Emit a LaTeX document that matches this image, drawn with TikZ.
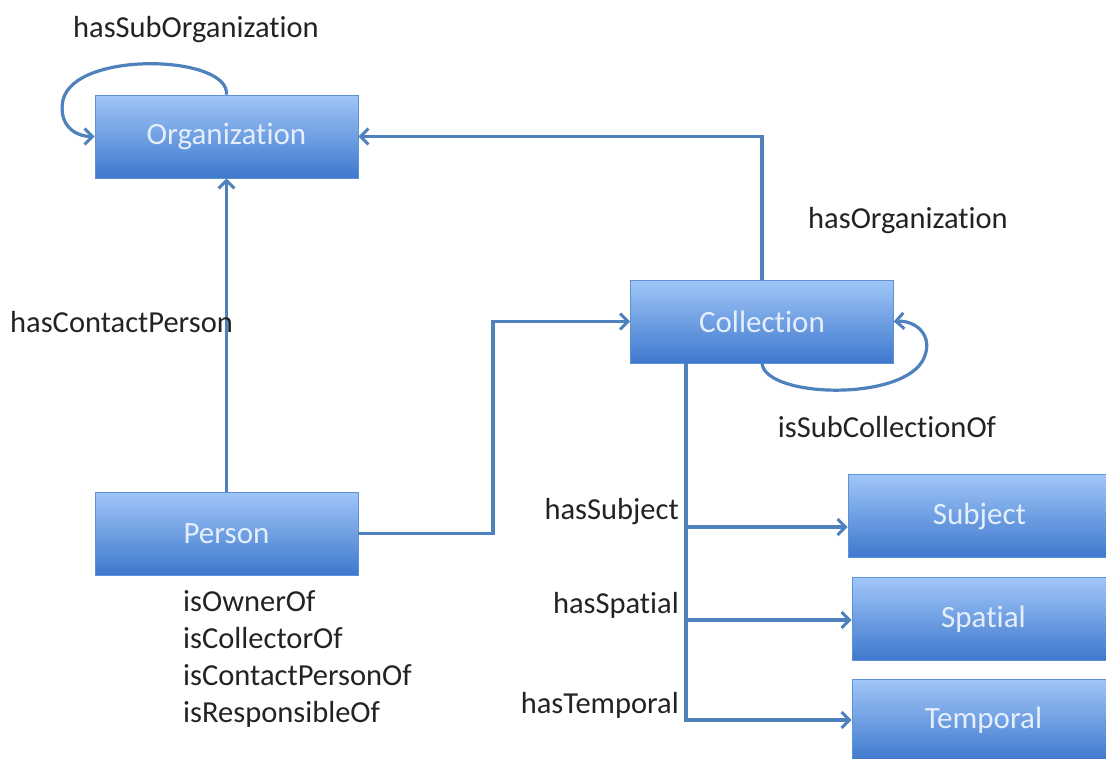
\documentclass[tikz,border=0pt]{standalone}
\usepackage{fontspec}
\setmainfont{Carlito}[Ligatures={NoCommon,NoContextual}]
\usetikzlibrary{arrows.meta,calc}
\definecolor{lnk}{RGB}{79,129,189}
\definecolor{boxtop}{RGB}{160,198,248}
\definecolor{boxbot}{RGB}{62,120,205}
\definecolor{boxedge}{RGB}{95,145,215}
\definecolor{boxtxt}{RGB}{228,238,252}
\definecolor{lbltxt}{RGB}{35,35,35}
\begin{document}
\begin{tikzpicture}[x=1pt,y=-1pt,
  cls/.style={draw=boxedge, line width=0.6pt, top color=boxtop, bottom color=boxbot,
    minimum width=263pt, minimum height=83pt, text=boxtxt, inner sep=0pt,
    font=\fontsize{31}{37}\selectfont},
  lbl/.style={font=\fontsize{30.5}{37}\selectfont, text=lbltxt, inner sep=0pt},
  plain/.style={draw=lnk, line width=3.2pt},
  link/.style={plain, -{Straight Barb[length=8pt,width=16pt,line width=3pt]}}]
\useasboundingbox (0,0) rectangle (1106,758);
\clip (0,0) rectangle (1106,758);
\fill[white] (0,0) rectangle (1106,758);

% class boxes
\node[cls] (org)  at (226.5,136.5) {Organization};
\node[cls] (coll) at (762,321.5) {Collection};
\node[cls] (per)  at (226.5,533.5) {Person};
\node[cls] (subj) at (979.5,516) {Subject};
\node[cls] (spat) at (983.5,619) {Spatial};
\node[cls] (temp) at (983.5,720.5) {Temporal};

% helper points
\coordinate (pc) at (493,533.5);
\coordinate (t1) at (686,527);
\coordinate (t2) at (686,620);
\coordinate (t3) at (686,720);
\coordinate (t0) at (686,363);

% connectors
\draw[link] (org.north) .. controls (230,55) and (75,50) .. (63,100)
            .. controls (58,125) and (75,136.5) .. (org.west);
\draw[link] (coll.north) |- (org.east);
\draw[link] (per.north) -- (org.south);
\draw[link] (per.east) -- (pc) |- (coll.west);
\draw[link] (coll.south) .. controls (765,398) and (905,402) .. (924,358)
            .. controls (934,335) and (915,320) .. (coll.east);
\draw[link] (t0) -- (t3) -- (t3 -| temp.west);
\draw[link] (t1) -- (t1 -| subj.west);
\draw[link] (t2) -- (t2 -| spat.west);

% labels
\node[lbl] (lsub)  at (196,30) {hasSubOrganization};
\node[lbl] (lorg)  at (908,221) {hasOrganization};
\node[lbl, anchor=west] (lcp) at (10,322) {hasContactPerson};
\node[lbl] (lsc)   at (887,427) {isSubCollectionOf};
\node[lbl, anchor=east] (lhs) at (679,512) {hasSubject};
\node[lbl, anchor=east] (lhp) at (679,605) {hasSpatial};
\node[lbl, anchor=east] (lht) at (679,705) {hasTemporal};
\node[lbl, anchor=north west, align=left, font=\fontsize{30.5}{37}\selectfont] (lper) at (183,590)
  {isOwnerOf\\isCollectorOf\\isContactPersonOf\\isResponsibleOf};
\end{tikzpicture}
\end{document}
